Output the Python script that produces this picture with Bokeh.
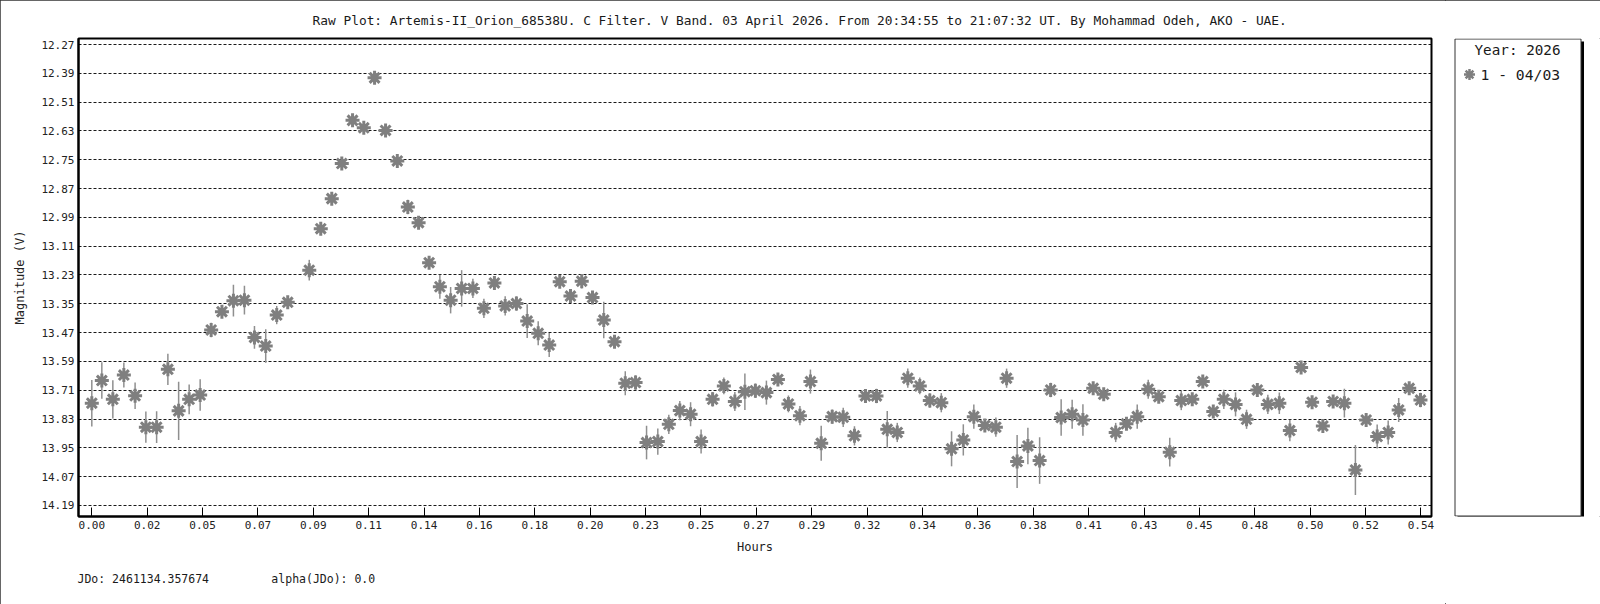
from bokeh.plotting import figure
from bokeh.layouts import row
from bokeh.models import ColumnDataSource, Range1d, FixedTicker, Title
from bokeh.core.properties import value
from bokeh.embed import file_html
from bokeh.resources import INLINE

FONT = "DejaVu Sans Mono"

title_text = ("Raw Plot: Artemis-II_Orion_68538U. C Filter. V Band. 03 April 2026. "
              "From 20:34:55 to 21:07:32 UT. By Mohammad Odeh, AKO - UAE.")

hours = [0.0000, 0.0041, 0.0086, 0.0131, 0.0177, 0.0221, 0.0265, 0.0311, 0.0355, 0.0398,
         0.0443, 0.0488, 0.0532, 0.0579, 0.0624, 0.0665, 0.0711, 0.0756, 0.0801, 0.0889,
         0.0936, 0.0981, 0.1022, 0.1066, 0.1112, 0.1156, 0.1201, 0.1249, 0.1292, 0.1336,
         0.1379, 0.1423, 0.1467, 0.1512, 0.1558, 0.1603, 0.1646, 0.1690, 0.1736, 0.1780,
         0.1825, 0.1870, 0.1913, 0.1957, 0.2003, 0.2047, 0.2093, 0.2137, 0.2181, 0.2223,
         0.2268, 0.2314, 0.2359, 0.2404, 0.2448, 0.2491, 0.2538, 0.2584, 0.2629, 0.2670,
         0.2713, 0.2758, 0.2805, 0.2848, 0.2895, 0.2938, 0.2982, 0.3027, 0.3072, 0.3118,
         0.3163, 0.3208, 0.3252, 0.3293, 0.3336, 0.3385, 0.3426, 0.3473, 0.3515, 0.3563,
         0.3606, 0.3651, 0.3696, 0.3740, 0.3783, 0.3827, 0.3875, 0.3920, 0.3963, 0.4008,
         0.4052, 0.4094, 0.4137, 0.4186, 0.4230, 0.4274, 0.4319, 0.4362, 0.4407, 0.4454,
         0.4499, 0.4542, 0.4585, 0.4628, 0.4676, 0.4721, 0.4765, 0.4808, 0.4855, 0.4898,
         0.4944, 0.4989, 0.5033, 0.5075, 0.5121, 0.5166, 0.5210, 0.5255, 0.5300, 0.5343,
         0.5386, 0.5432]

magnitude = [13.764, 13.670, 13.748, 13.647, 13.733, 13.864, 13.864, 13.623, 13.796, 13.748,
             13.730, 13.459, 13.383, 13.337, 13.335, 13.490, 13.526, 13.397, 13.344, 13.210,
             13.037, 12.912, 12.766, 12.586, 12.617, 12.409, 12.628, 12.755, 12.947, 13.012,
             13.179, 13.279, 13.335, 13.286, 13.286, 13.369, 13.263, 13.359, 13.349, 13.422,
             13.473, 13.522, 13.258, 13.318, 13.256, 13.324, 13.418, 13.508, 13.681, 13.678,
             13.928, 13.924, 13.852, 13.795, 13.810, 13.924, 13.748, 13.692, 13.757, 13.716,
             13.712, 13.720, 13.665, 13.767, 13.816, 13.674, 13.931, 13.820, 13.823, 13.900,
             13.734, 13.734, 13.873, 13.886, 13.660, 13.692, 13.753, 13.762, 13.954, 13.917,
             13.820, 13.857, 13.864, 13.660, 14.007, 13.942, 14.003, 13.709, 13.824, 13.810,
             13.834, 13.702, 13.727, 13.886, 13.850, 13.820, 13.706, 13.737, 13.968, 13.753,
             13.748, 13.674, 13.799, 13.748, 13.769, 13.831, 13.709, 13.769, 13.764, 13.878,
             13.615, 13.760, 13.859, 13.757, 13.764, 14.042, 13.834, 13.903, 13.886, 13.792,
             13.702, 13.751]

mag_error = [0.097, 0.076, 0.080, 0.052, 0.055, 0.065, 0.066, 0.065, 0.121, 0.062,
             0.066, 0.030, 0.020, 0.066, 0.060, 0.047, 0.070, 0.038, 0.025, 0.043,
             0.020, 0.020, 0.020, 0.020, 0.020, 0.020, 0.020, 0.020, 0.030, 0.020,
             0.025, 0.050, 0.055, 0.076, 0.040, 0.040, 0.020, 0.040, 0.030, 0.070,
             0.050, 0.050, 0.020, 0.020, 0.030, 0.020, 0.076, 0.020, 0.050, 0.030,
             0.070, 0.055, 0.040, 0.040, 0.050, 0.050, 0.030, 0.035, 0.040, 0.076,
             0.030, 0.050, 0.020, 0.035, 0.040, 0.050, 0.073, 0.030, 0.040, 0.040,
             0.020, 0.030, 0.076, 0.040, 0.040, 0.035, 0.030, 0.040, 0.073, 0.065,
             0.050, 0.020, 0.040, 0.040, 0.110, 0.076, 0.097, 0.030, 0.076, 0.060,
             0.066, 0.020, 0.020, 0.040, 0.020, 0.050, 0.040, 0.020, 0.060, 0.040,
             0.020, 0.020, 0.020, 0.040, 0.050, 0.040, 0.020, 0.040, 0.045, 0.045,
             0.020, 0.020, 0.020, 0.020, 0.060, 0.104, 0.020, 0.050, 0.050, 0.050,
             0.020, 0.030]

x_tick_labels = ["0.00", "0.02", "0.05", "0.07", "0.09", "0.11", "0.14", "0.16", "0.18",
                 "0.20", "0.23", "0.25", "0.27", "0.29", "0.32", "0.34", "0.36", "0.38",
                 "0.41", "0.43", "0.45", "0.48", "0.50", "0.52", "0.54"]
x_span_hours = 0.5434

y_tick_labels = ["12.27", "12.39", "12.51", "12.63", "12.75", "12.87", "12.99", "13.11",
                 "13.23", "13.35", "13.47", "13.59", "13.71", "13.83", "13.95", "14.07",
                 "14.19"]

legend_title = "Year: 2026"
legend_label = "1 - 04/03"
jdo_text = "JDo: 2461134.357674"
alpha_text = "alpha(JDo): 0.0"

MARKER_COLOR = "#7f7f7f"
TEXT_COLOR = "#1a1a1a"

src = ColumnDataSource(dict(
    x=hours, y=magnitude,
    lo=[m - e for m, e in zip(magnitude, mag_error)],
    hi=[m + e for m, e in zip(magnitude, mag_error)],
))

# ---------------- main plot ----------------
WM, H = 1445, 604
FRAME_TOP, FRAME_BOTTOM = 38, 516
p = figure(width=WM, height=H, output_backend="svg", toolbar_location=None,
           x_range=Range1d(-0.00544, 0.54771), y_range=Range1d(14.236, 12.245),
           min_border_left=78, min_border_right=14, min_border_top=FRAME_TOP,
           min_border_bottom=H - FRAME_BOTTOM, background_fill_color="white",
           border_fill_color="white")

p.title.text = title_text
p.title.align = "left"
p.title.offset = 234
p.title.standoff = 21
p.title.text_font = FONT
p.title.text_font_size = "12.85px"
p.title.text_font_style = "normal"
p.title.text_color = TEXT_COLOR

step = x_span_hours / (len(x_tick_labels) - 1)
xt = [round(i * step, 6) for i in range(len(x_tick_labels))]
xticker = FixedTicker(ticks=xt)
p.xaxis.ticker = xticker
p.xaxis.major_label_overrides = {t: lab for t, lab in zip(xt, x_tick_labels)}

yt = [float(s) for s in y_tick_labels]
yticker = FixedTicker(ticks=yt)
p.yaxis.ticker = yticker
p.yaxis.major_label_overrides = {t: lab for t, lab in zip(yt, y_tick_labels)}
p.ygrid.ticker = yticker

p.xgrid.visible = False
p.ygrid.grid_line_color = "black"
p.ygrid.grid_line_dash = "3 2"
p.ygrid.grid_line_width = 1
p.ygrid.grid_line_alpha = 0.9

for ax in (p.xaxis, p.yaxis):
    ax.axis_line_color = "black"
    ax.axis_line_width = 2
    ax.major_tick_line_color = "black"
    ax.minor_tick_line_color = None
    ax.major_label_text_font = FONT
    ax.major_label_text_font_size = "11px"
    ax.major_label_text_color = "#222222"
    ax.axis_label_text_font = FONT
    ax.axis_label_text_font_size = "12px"
    ax.axis_label_text_font_style = "normal"
    ax.axis_label_text_color = "#222222"

p.xaxis.major_tick_in = 9
p.xaxis.major_tick_out = 0
p.xaxis.major_label_standoff = 4
p.xaxis.axis_label = "Hours"
p.xaxis.axis_label_standoff = 8

p.yaxis.major_tick_in = 0
p.yaxis.major_tick_out = 0
p.yaxis.major_label_standoff = 4
p.yaxis.axis_label = "Magnitude (V)"
p.yaxis.axis_label_standoff = 11

p.outline_line_color = "black"
p.outline_line_width = 2
p.outline_line_alpha = 1

p.segment("x", "lo", "x", "hi", source=src, line_color="#8f8f8f", line_width=1.5)
p.scatter("x", "y", source=src, marker="asterisk", size=14,
          line_color=MARKER_COLOR, line_width=3)

foot = Title(text=jdo_text + "\u00a0" * 9 + alpha_text, align="left", offset=-1,
             standoff=27, text_font=FONT, text_font_size="11.5px",
             text_font_style="normal", text_color=TEXT_COLOR)
p.add_layout(foot, "below")

# ---------------- legend panel ----------------
# its frame is aligned with the main frame (rows of plots align frames),
# so the y range is expressed in page pixels of that frame.
WL = 1600 - WM
q = figure(width=WL, height=H, output_backend="svg", toolbar_location=None,
           x_range=Range1d(0, WL), y_range=Range1d(FRAME_BOTTOM, FRAME_TOP),
           x_axis_location=None, y_axis_location=None,
           min_border=0, min_border_left=0, min_border_right=0,
           min_border_top=0, min_border_bottom=0,
           background_fill_color="white", border_fill_color="white")
q.grid.visible = False
q.outline_line_color = None

# shadow and box of the legend
q.quad(left=[12], right=[138.5], top=[41], bottom=[517],
       fill_color="black", line_color=None)
q.quad(left=[9.5], right=[135.5], top=[38.5], bottom=[515.5],
       fill_color="white", line_color="#333333", line_width=1)
q.scatter(x=[24], y=[74], marker="asterisk", size=11, line_color=MARKER_COLOR,
          line_width=2.5)
q.text(x=[29], y=[49.5], text=[legend_title],
       text_font=value(FONT), text_font_size="14.3px", text_baseline="middle",
       text_align="left", text_color=TEXT_COLOR)
q.text(x=[35], y=[74], text=[legend_label],
       text_font=value(FONT), text_font_size="14.7px", text_baseline="middle",
       text_align="left", text_color=TEXT_COLOR)

layout = row(p, q, spacing=0)
layout.styles = {"outline": "1px solid #333333", "outline-offset": "-1px"}

open("out.html", "w").write(file_html(layout, INLINE))
